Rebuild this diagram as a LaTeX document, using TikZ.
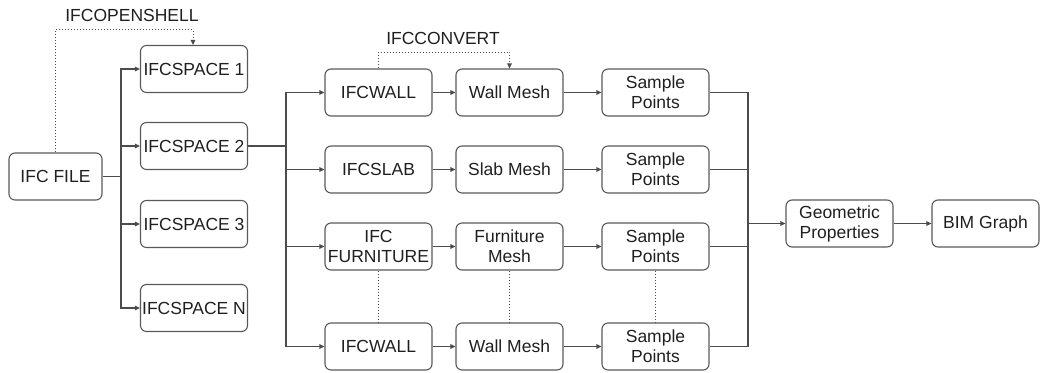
\documentclass[tikz,border=0pt]{standalone}
\usepackage{fontspec}
\setmainfont{Liberation Sans}
\usetikzlibrary{arrows.meta}
\begin{document}
\begin{tikzpicture}[x=1pt,y=-1pt,
  every node/.style={font=\fontsize{17.5}{20}\selectfont, text=black!88},
  box/.style={draw=black!65, line width=1.1pt, rounded corners=6pt,
    minimum width=107pt, minimum height=47pt, align=center, inner sep=1pt},
  wire/.style={draw=black!70, line width=1.1pt},
  arr/.style={wire, -{Triangle[length=5pt,width=4.5pt]}},
  dotwire/.style={wire, line width=1pt, dotted},
  dotarr/.style={dotwire, -{Triangle[length=5pt,width=4.5pt]}},
  lbl/.style={inner sep=0pt}]
\useasboundingbox (0,0) rectangle (1040,372);

% source file and spaces
\node[box, minimum width=93pt] (file) at (55.5,176.5) {IFC FILE};
\node[box] (sp1) at (194,69)  {IFCSPACE 1};
\node[box] (sp2) at (194,146) {IFCSPACE 2};
\node[box] (sp3) at (194,224) {IFCSPACE 3};
\node[box] (spn) at (194,308) {IFCSPACE N};

% elements, meshes and sampled points per row
\node[box] (el1) at (378.5,92.5)  {IFCWALL};
\node[box] (el2) at (378.5,169.5) {IFCSLAB};
\node[box] (el3) at (378.5,246.5) {IFC\\FURNITURE};
\node[box] (el4) at (378.5,346.5) {IFCWALL};

\node[box] (me1) at (509.5,92.5)  {Wall Mesh};
\node[box] (me2) at (509.5,169.5) {Slab Mesh};
\node[box] (me3) at (509.5,246.5) {Furniture\\Mesh};
\node[box] (me4) at (509.5,346.5) {Wall Mesh};

\node[box] (pt1) at (655.5,92.5)  {Sample\\Points};
\node[box] (pt2) at (655.5,169.5) {Sample\\Points};
\node[box] (pt3) at (655.5,246.5) {Sample\\Points};
\node[box] (pt4) at (655.5,346.5) {Sample\\Points};

\node[box] (geo) at (839.5,223.5) {Geometric\\Properties};
\node[box] (bim) at (985.5,223.5) {BIM Graph};

% branch points
\coordinate (b1) at (121,176.5);
\coordinate (b2) at (286,146);
\coordinate (b3) at (748,223.5);

% file to spaces
\draw[wire] (file.east) -- (b1);
\foreach \s in {sp1,sp2,sp3,spn} \draw[arr] (b1) |- (\s.west);

% space to element rows
\draw[wire] (sp2.east) -- (b2);
\foreach \e in {el1,el2,el3,el4} \draw[arr] (b2) |- (\e.west);

% along each row
\foreach \i in {1,2,3,4} {
  \draw[arr] (el\i.east) -- (me\i.west);
  \draw[arr] (me\i.east) -- (pt\i.west);
  \draw[wire] (pt\i.east) -| (b3);
}

% merge to properties and graph
\draw[arr] (b3) -- (geo.west);
\draw[arr] (geo.east) -- (bim.west);

% elided rows
\draw[dotwire] (el3.south) -- (el4.north);
\draw[dotwire] (me3.south) -- (me4.north);
\draw[dotwire] (pt3.south) -- (pt4.north);

% tool annotations
\draw[dotarr] (file.north) |- ([xshift=-1pt,yshift=15pt]sp1.north) -- ([xshift=-1pt]sp1.north);
\node[lbl] (openshell) at (132,15) {IFCOPENSHELL};

\draw[dotarr] (el1.north) |- ([yshift=16pt]me1.north) -- (me1.north);
\node[lbl] (convert) at (443,38) {IFCCONVERT};
\end{tikzpicture}
\end{document}
